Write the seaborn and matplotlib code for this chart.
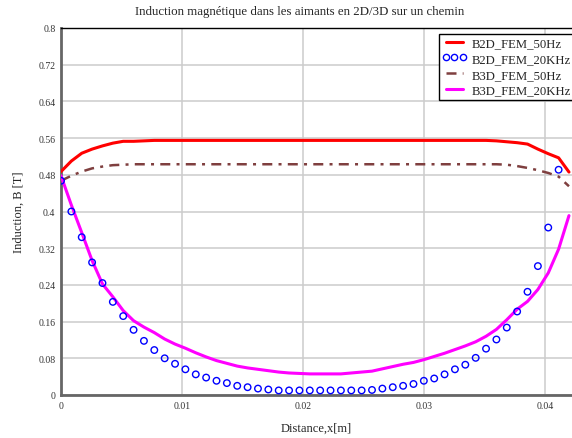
import numpy as np
import pandas as pd
import matplotlib
matplotlib.use("Agg")
import matplotlib.pyplot as plt
from matplotlib.lines import Line2D
import seaborn as sns

# sample positions along the path [m]
x_pts = [0.0, 0.000857, 0.001714, 0.002571, 0.003429, 0.004286, 0.005143, 0.006, 0.006857,
         0.007714, 0.008571, 0.009429, 0.010286, 0.011143, 0.012, 0.012857, 0.013714,
         0.014571, 0.015429, 0.016286, 0.017143, 0.018, 0.018857, 0.019714, 0.020571,
         0.021429, 0.022286, 0.023143, 0.024, 0.024857, 0.025714, 0.026571, 0.027429,
         0.028286, 0.029143, 0.03, 0.030857, 0.031714, 0.032571, 0.033429, 0.034286,
         0.035143, 0.036, 0.036857, 0.037714, 0.038571, 0.039429, 0.040286, 0.041143, 0.042]

b2d_50hz = [0.487, 0.510, 0.527, 0.536, 0.543, 0.549, 0.553, 0.553, 0.554, 0.555,
            0.555, 0.555, 0.555, 0.555, 0.555, 0.555, 0.555, 0.555, 0.555, 0.555,
            0.555, 0.555, 0.555, 0.555, 0.555, 0.555, 0.555, 0.555, 0.555, 0.555,
            0.555, 0.555, 0.555, 0.555, 0.555, 0.555, 0.555, 0.555, 0.555, 0.555,
            0.555, 0.555, 0.554, 0.552, 0.550, 0.547, 0.536, 0.526, 0.517, 0.486]

b2d_20khz = [0.467, 0.400, 0.344, 0.289, 0.244, 0.203, 0.172, 0.142, 0.118, 0.098,
             0.080, 0.068, 0.056, 0.045, 0.038, 0.031, 0.026, 0.020, 0.017, 0.014,
             0.012, 0.010, 0.010, 0.010, 0.010, 0.010, 0.010, 0.010, 0.010, 0.010,
             0.011, 0.014, 0.017, 0.020, 0.024, 0.031, 0.036, 0.045, 0.056, 0.066,
             0.081, 0.101, 0.121, 0.147, 0.182, 0.225, 0.281, 0.365, 0.491]

b3d_50hz = [0.467, 0.478, 0.487, 0.494, 0.498, 0.501, 0.502, 0.503, 0.503, 0.503,
            0.503, 0.503, 0.503, 0.503, 0.503, 0.503, 0.503, 0.503, 0.503, 0.503,
            0.503, 0.503, 0.503, 0.503, 0.503, 0.503, 0.503, 0.503, 0.503, 0.503,
            0.503, 0.503, 0.503, 0.503, 0.503, 0.503, 0.503, 0.503, 0.503, 0.503,
            0.503, 0.503, 0.503, 0.502, 0.499, 0.495, 0.490, 0.484, 0.476, 0.455]

b3d_20khz = [0.478, 0.414, 0.354, 0.293, 0.242, 0.214, 0.184, 0.162, 0.148, 0.136,
             0.122, 0.111, 0.102, 0.092, 0.083, 0.075, 0.069, 0.063, 0.059, 0.056,
             0.053, 0.050, 0.048, 0.047, 0.046, 0.046, 0.046, 0.046, 0.048, 0.050,
             0.052, 0.057, 0.062, 0.067, 0.071, 0.077, 0.084, 0.091, 0.099, 0.107,
             0.116, 0.128, 0.143, 0.164, 0.187, 0.204, 0.230, 0.266, 0.318, 0.391]

x_ticks = [0, 0.01, 0.02, 0.03, 0.04]
x_tick_labels = ["0", "0.01", "0.02", "0.03", "0.04"]
y_ticks = [0, 0.08, 0.16, 0.24, 0.32, 0.4, 0.48, 0.56, 0.64, 0.72, 0.8]
y_tick_labels = ["0", "0.08", "0.16", "0.24", "0.32", "0.4", "0.48", "0.56", "0.64", "0.72", "0.8"]

lines_df = pd.DataFrame({"x": x_pts, "b2d_50": b2d_50hz, "b3d_50": b3d_50hz, "b3d_20k": b3d_20khz})
circ_df = pd.DataFrame({"x": x_pts[:len(b2d_20khz)], "b2d_20k": b2d_20khz})

sns.set_style("whitegrid")
plt.rcParams["font.family"] = ["Liberation Serif", "DejaVu Serif"]

fig = plt.figure(figsize=(5.72, 4.39), dpi=100)
ax = fig.add_axes([61 / 572, 43 / 439, 1 - 61 / 572, 367 / 439])

red = "#ff0000"
blue = "#0000ff"
brown = "#7f3f3f"
magenta = "#ff00ff"

sns.lineplot(data=lines_df, x="x", y="b2d_50", ax=ax, color=red, linewidth=2.2, zorder=4)
sns.scatterplot(data=circ_df, x="x", y="b2d_20k", ax=ax, marker="o", s=22,
                facecolors="none", edgecolor=blue, linewidth=1.0, zorder=5)
sns.lineplot(data=lines_df, x="x", y="b3d_50", ax=ax, color=brown, linewidth=1.8,
             dashes=False, zorder=4)
ax.lines[-1].set_dashes([4, 2.5, 1.2, 2.5])
sns.lineplot(data=lines_df, x="x", y="b3d_20k", ax=ax, color=magenta, linewidth=2.2, zorder=4)

ax.set_xlim(0, 0.04225)
ax.set_ylim(0, 0.8)
ax.set_xticks(x_ticks)
ax.set_xticklabels(x_tick_labels)
ax.set_yticks(y_ticks)
ax.set_yticklabels(y_tick_labels)
ax.tick_params(axis="both", length=0, labelsize=7, colors="#333333", pad=4)
ax.grid(True, color="#cccccc", linewidth=1.1)

ax.spines["right"].set_visible(False)
ax.spines["top"].set_color("black")
ax.spines["top"].set_linewidth(1.0)
ax.spines["left"].set_color("#666666")
ax.spines["left"].set_linewidth(2.0)
ax.spines["bottom"].set_color("#666666")
ax.spines["bottom"].set_linewidth(2.0)

ax.set_xlabel("Distance,x[m]", fontsize=9, labelpad=9)
ax.set_ylabel("Induction, B [T]", fontsize=9, labelpad=10)
fig.text(300 / 572, 1 - 12 / 439, "Induction magnétique dans les aimants en 2D/3D sur un chemin",
         ha="center", va="center", fontsize=9.3)

handles = [
    Line2D([], [], color=red, linewidth=2.2),
    Line2D([], [], color=blue, marker="o", markerfacecolor="none", markersize=4.5,
           markeredgewidth=1.0, linestyle="none"),
    Line2D([], [], color=brown, linewidth=1.8, dashes=[4, 2.5, 1.2, 2.5]),
    Line2D([], [], color=magenta, linewidth=2.2),
]
labels = ["B2D_FEM_50Hz", "B2D_FEM_20KHz", "B3D_FEM_50Hz", "B3D_FEM_20KHz"]
leg = ax.legend(handles, labels, loc="upper right", bbox_to_anchor=(1.004, 0.984),
                fontsize=9.2, frameon=True, fancybox=False, framealpha=1,
                edgecolor="black", numpoints=3, handlelength=1.9, handletextpad=0.4,
                borderpad=0.25, labelspacing=0.3, borderaxespad=0.0)
leg.get_frame().set_linewidth(1.0)

fig.savefig("out.png", dpi=100)
